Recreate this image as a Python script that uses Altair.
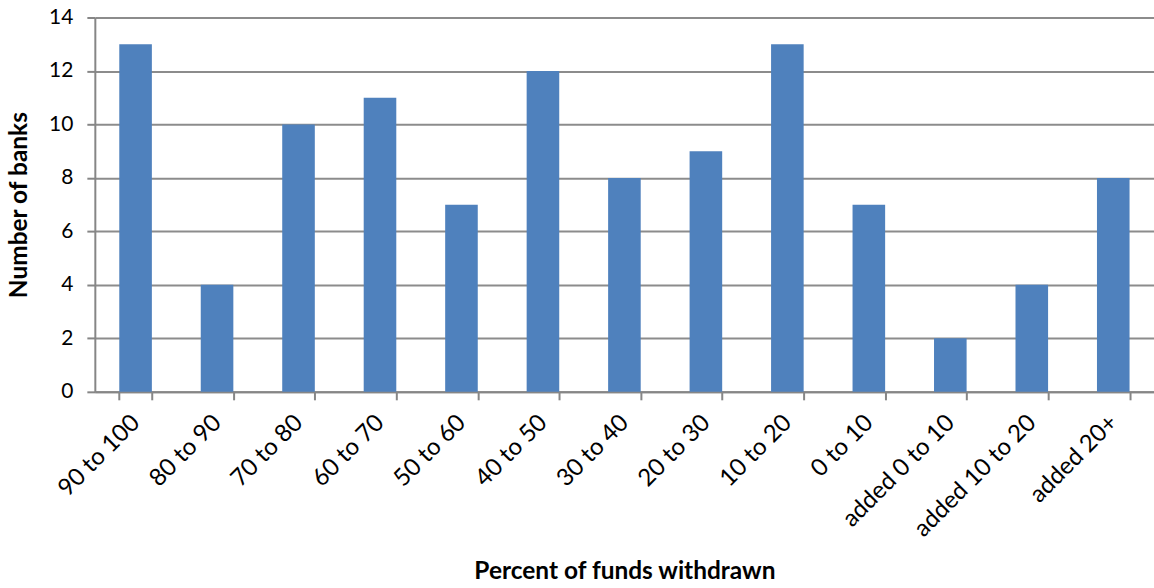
import altair as alt
import pandas as pd

# Withdrawal buckets and bank counts
categories = ["90 to 100", "80 to 90", "70 to 80", "60 to 70", "50 to 60",
              "40 to 50", "30 to 40", "20 to 30", "10 to 20", "0 to 10",
              "added 0 to 10", "added 10 to 20", "added 20+"]
banks = [13, 4, 10, 11, 7, 12, 8, 9, 13, 7, 2, 4, 8]

df = pd.DataFrame({"bucket": categories, "banks": banks})

FONT = "Lato"

chart = alt.Chart(df).mark_bar(color="#4F81BD").encode(
    x=alt.X(
        "bucket:N",
        sort=categories,
        scale=alt.Scale(paddingInner=0.6, paddingOuter=0.3),
        axis=alt.Axis(
            title="Percent of funds withdrawn",
            labelAngle=-45,
            labelAlign="right",
            labelBaseline="middle",
            labelFontSize=24,
            labelFont=FONT,
            labelColor="#000000",
            labelPadding=19,
            tickBand="extent",
            tickSize=8,
            tickColor="#868686",
            tickWidth=2,
            domainColor="#868686",
            domainWidth=2,
            titleFontSize=24.5,
            titleFont=FONT,
            titleFontWeight="bold",
            titleColor="#000000",
            titleBaseline="middle",
            titleY=180,
        ),
    ),
    y=alt.Y(
        "banks:Q",
        scale=alt.Scale(domain=[0, 14], nice=False),
        axis=alt.Axis(
            title="Number of banks",
            values=[0, 2, 4, 6, 8, 10, 12, 14],
            labelFontSize=21,
            labelFont=FONT,
            labelColor="#000000",
            labelPadding=14,
            tickSize=8,
            tickColor="#868686",
            tickWidth=2,
            domainColor="#868686",
            domainWidth=2,
            grid=True,
            gridColor="#8C8C8C",
            gridWidth=2,
            titleFontSize=24.5,
            titleFont=FONT,
            titleFontWeight="bold",
            titleColor="#000000",
            titleBaseline="middle",
            titleX=-75,
        ),
    ),
).properties(
    width=1061,
    height=375,
    padding={"left": 95, "top": 17, "right": 0, "bottom": 196},
    autosize=alt.AutoSizeParams(type="none"),
).configure_view(stroke=None)

chart.save("out.html", embed_options={"renderer": "svg", "actions": False})
